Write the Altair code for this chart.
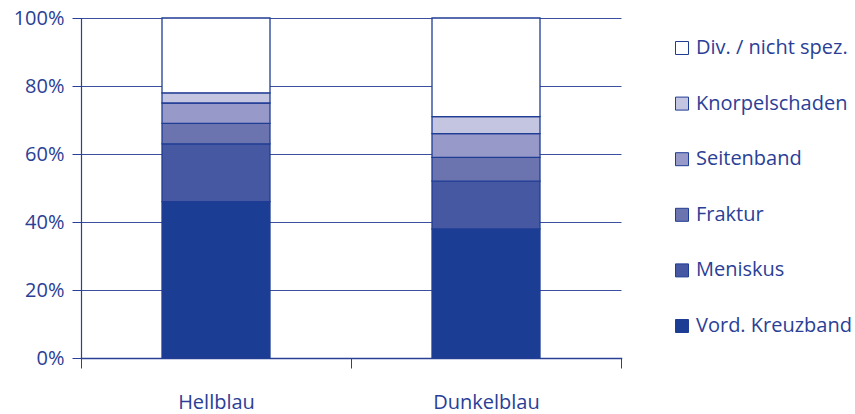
import altair as alt
import pandas as pd

groups = ["Hellblau", "Dunkelblau"]
categories = ["Vord. Kreuzband", "Meniskus", "Fraktur", "Seitenband", "Knorpelschaden", "Div. / nicht spez."]
hellblau = [46, 17, 6, 6, 3, 22]
dunkelblau = [38, 14, 7, 7, 5, 29]
colors = ["#1c3d94", "#4658a2", "#6c74af", "#9799c9", "#c4c5e1", "#ffffff"]
y_ticks = [0, 20, 40, 60, 80, 100]

rows = []
for g, vals in zip(groups, [hellblau, dunkelblau]):
    for i, (c, v) in enumerate(zip(categories, vals)):
        rows.append({"Gruppe": g, "Kategorie": c, "Wert": v, "Ordnung": i})
df = pd.DataFrame(rows)

TXT = "#2a4096"
FONT = "Open Sans"
FS = 20

chart = alt.Chart(df).mark_bar(
    width=alt.RelativeBandSize(0.4), stroke="#1f3d94", strokeWidth=1.3
).encode(
    x=alt.X("Gruppe:N", sort=groups, title=None,
            scale=alt.Scale(paddingInner=0, paddingOuter=0),
            axis=alt.Axis(labelAngle=0, tickBand="extent", tickSize=10, tickColor=TXT,
                          domainColor=TXT, domainWidth=1.5, labelFontSize=FS, labelColor=TXT,
                          labelFont=FONT, labelPadding=24, grid=False)),
    y=alt.Y("Wert:Q", stack="zero", title=None,
            scale=alt.Scale(domain=[0, 100], nice=False),
            axis=alt.Axis(values=y_ticks, labelExpr="datum.value + '%'", tickSize=9,
                          tickColor=TXT, domainColor=TXT, domainWidth=1.2, grid=True,
                          gridColor="#3a4f9e", gridWidth=1, labelFontSize=FS, labelColor=TXT,
                          labelFont=FONT, labelPadding=8)),
    color=alt.Color("Kategorie:N", sort=categories[::-1],
                    scale=alt.Scale(domain=categories[::-1], range=colors[::-1]),
                    legend=alt.Legend(title=None, orient="none", legendX=591, legendY=20,
                                      symbolType="square", symbolSize=169,
                                      symbolStrokeColor="#1f3d94", symbolStrokeWidth=1,
                                      labelFontSize=FS, labelColor=TXT, labelFont=FONT,
                                      rowPadding=35.6, labelOffset=4, padding=0)),
    order=alt.Order("Ordnung:Q", sort="ascending"),
).properties(
    width=540, height=340,
    autosize=alt.AutoSizeParams(type="none"),
    padding={"left": 81, "top": 18, "right": 234, "bottom": 56},
).configure_view(stroke=None).configure_axis(domainCap="square")

chart.save("out.html", embed_options={"renderer": "svg", "actions": False})
